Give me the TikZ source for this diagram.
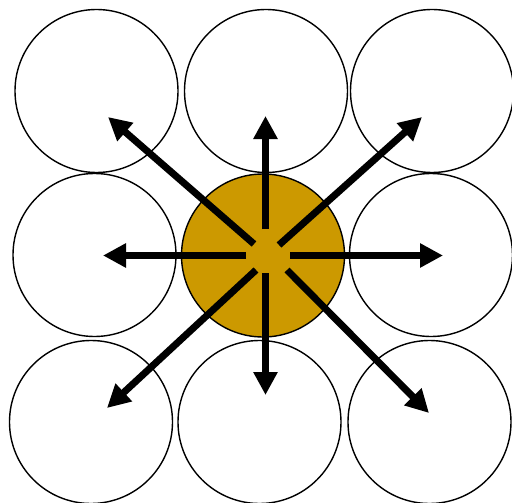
\documentclass[tikz,border=0pt]{standalone}
\usetikzlibrary{arrows.meta}
\definecolor{gold}{RGB}{204,153,0}
\begin{document}
\begin{tikzpicture}[x=1pt,y=-1pt,
  cell/.style={circle,draw=black,line width=1.4pt,inner sep=0pt,minimum size=163pt},
  ray/.style={line width=7pt,-{Triangle[length=23pt,width=23pt]}}]
\useasboundingbox (0,0) rectangle (512,503);
\node[cell] (tl) at (96.5,91) {};
\node[cell] (tm) at (266,91) {};
\node[cell] (tr) at (432,91) {};
\node[cell] (ml) at (94.5,255) {};
\node[cell,fill=gold] (mm) at (263,255.5) {};
\node[cell] (mr) at (431,255) {};
\node[cell] (bl) at (91,422) {};
\node[cell] (bm) at (259.5,422) {};
\node[cell] (br) at (429.5,422) {};
% ray start points
\coordinate (sL) at (246,255.5);
\coordinate (sR) at (290,255.5);
\coordinate (sU) at (265.5,229);
\coordinate (sD) at (265.5,273);
\coordinate (sUL) at (254,244);
\coordinate (sUR) at (279,245);
\coordinate (sDL) at (256,270);
\coordinate (sDR) at (287,270);
% ray tips
\coordinate (eL) at (103,255.5);
\coordinate (eR) at (443,255.5);
\coordinate (eU) at (265.5,116);
\coordinate (eD) at (265.5,395);
\coordinate (eUL) at (108,117);
\coordinate (eUR) at (422,117);
\coordinate (eDL) at (107,408);
\coordinate (eDR) at (429,413);
\draw[ray] (sL) -- (eL);
\draw[ray] (sR) -- (eR);
\draw[ray] (sU) -- (eU);
\draw[ray] (sD) -- (eD);
\draw[ray] (sUL) -- (eUL);
\draw[ray] (sUR) -- (eUR);
\draw[ray] (sDL) -- (eDL);
\draw[ray] (sDR) -- (eDR);
\end{tikzpicture}
\end{document}
